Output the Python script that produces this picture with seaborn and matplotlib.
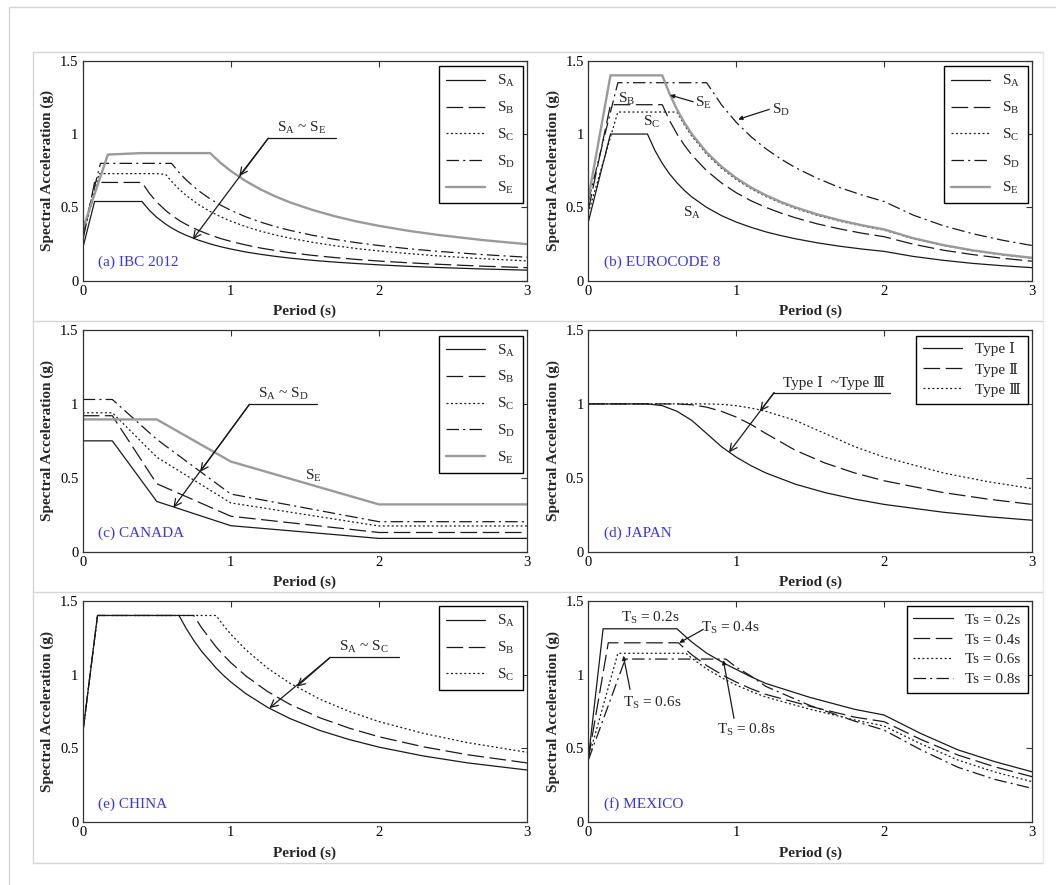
import matplotlib
matplotlib.use("Agg")
import matplotlib.pyplot as plt
import seaborn as sns
from matplotlib.lines import Line2D

# ---------------------------------------------------------------- data
period_ticks = [0, 1, 2, 3]
period_tick_labels = ["0", "1", "2", "3"]
accel_ticks = [0, 0.5, 1.0, 1.5]
accel_tick_labels = ["0", "0.5", "1", "1.5"]

site_labels = [r"$\mathrm{S_A}$", r"$\mathrm{S_B}$", r"$\mathrm{S_C}$",
               r"$\mathrm{S_D}$", r"$\mathrm{S_E}$"]
japan_labels = ["Type \u2160", "Type \u2161", "Type \u2162"]
mexico_labels = ["Ts = 0.2s", "Ts = 0.4s", "Ts = 0.6s", "Ts = 0.8s"]

# (a) IBC 2012
ibc_T = [0, 0.08, 0.11, 0.12, 0.17, 0.4, 0.45, 0.5, 0.56, 0.6, 0.65, 0.7,
         0.78, 0.86, 0.93, 1.0, 1.1, 1.2, 1.3, 1.4, 1.55, 1.7, 1.85, 2.0,
         2.2, 2.4, 2.7, 3.0]
ibc_SA = [0.22, 0.54, 0.54, 0.54, 0.54, 0.54, 0.48, 0.432, 0.386, 0.36,
          0.332, 0.309, 0.277, 0.251, 0.232, 0.216, 0.196, 0.18, 0.166,
          0.154, 0.139, 0.127, 0.117, 0.108, 0.098, 0.09, 0.08, 0.072]
ibc_SB = [0.27, 0.67, 0.67, 0.67, 0.67, 0.67, 0.596, 0.536, 0.479, 0.447,
          0.412, 0.383, 0.344, 0.312, 0.288, 0.268, 0.244, 0.223, 0.206,
          0.191, 0.173, 0.158, 0.145, 0.134, 0.122, 0.112, 0.099, 0.089]
ibc_SC = [0.29, 0.61, 0.73, 0.73, 0.73, 0.73, 0.73, 0.73, 0.725, 0.677,
          0.625, 0.58, 0.521, 0.472, 0.437, 0.406, 0.369, 0.338, 0.312,
          0.29, 0.262, 0.239, 0.219, 0.203, 0.185, 0.169, 0.15, 0.135]
ibc_SD = [0.32, 0.64, 0.76, 0.80, 0.80, 0.80, 0.80, 0.80, 0.80, 0.80,
          0.738, 0.686, 0.615, 0.558, 0.516, 0.48, 0.436, 0.40, 0.369,
          0.343, 0.31, 0.282, 0.259, 0.24, 0.218, 0.20, 0.178, 0.16]
ibc_SE = [0.35, 0.59, 0.68, 0.71, 0.86, 0.87, 0.87, 0.87, 0.87, 0.87, 0.87,
          0.87, 0.87, 0.87, 0.804, 0.748, 0.68, 0.623, 0.575, 0.534, 0.483,
          0.44, 0.404, 0.374, 0.34, 0.312, 0.277, 0.249]

# (b) EUROCODE 8
ec8_T = [0, 0.15, 0.2, 0.4, 0.45, 0.5, 0.55, 0.6, 0.65, 0.7, 0.8, 0.9, 1.0,
         1.1, 1.2, 1.3, 1.4, 1.55, 1.7, 1.85, 2.0, 2.2, 2.4, 2.6, 2.8, 3.0]
ec8_SA = [0.40, 1.0, 1.0, 1.0, 0.889, 0.80, 0.727, 0.667, 0.615, 0.571,
          0.50, 0.444, 0.40, 0.364, 0.333, 0.308, 0.286, 0.258, 0.235,
          0.216, 0.20, 0.165, 0.139, 0.118, 0.102, 0.089]
ec8_SB = [0.48, 1.2, 1.2, 1.2, 1.2, 1.2, 1.091, 1.0, 0.923, 0.857, 0.75,
          0.667, 0.60, 0.545, 0.50, 0.462, 0.429, 0.387, 0.353, 0.324, 0.30,
          0.248, 0.208, 0.178, 0.153, 0.133]
ec8_SC = [0.46, 0.98, 1.15, 1.15, 1.15, 1.15, 1.15, 1.15, 1.062, 0.986,
          0.863, 0.767, 0.69, 0.627, 0.575, 0.531, 0.493, 0.445, 0.406,
          0.373, 0.345, 0.285, 0.24, 0.204, 0.176, 0.153]
ec8_SD = [0.54, 1.15, 1.35, 1.35, 1.35, 1.35, 1.35, 1.35, 1.35, 1.35, 1.35,
          1.20, 1.08, 0.982, 0.90, 0.831, 0.771, 0.697, 0.635, 0.584, 0.54,
          0.446, 0.375, 0.32, 0.276, 0.24]
ec8_SE = [0.56, 1.4, 1.4, 1.4, 1.4, 1.4, 1.273, 1.167, 1.077, 1.0, 0.875,
          0.778, 0.70, 0.636, 0.583, 0.538, 0.50, 0.452, 0.412, 0.378, 0.35,
          0.289, 0.243, 0.207, 0.179, 0.156]

# (c) CANADA
canada_T = [0, 0.2, 0.5, 1.0, 2.0, 3.0]
canada_SA = [0.75, 0.75, 0.34, 0.176, 0.09, 0.09]
canada_SB = [0.92, 0.92, 0.46, 0.24, 0.13, 0.13]
canada_SC = [0.94, 0.94, 0.64, 0.33, 0.174, 0.174]
canada_SD = [1.03, 1.03, 0.76, 0.39, 0.203, 0.203]
canada_SE = [0.895, 0.895, 0.895, 0.61, 0.32, 0.32]

# (d) JAPAN
japan_T = [0, 0.4, 0.5, 0.6, 0.7, 0.8, 0.9, 1.0, 1.1, 1.2, 1.4, 1.6, 1.8,
           2.0, 2.4, 2.7, 3.0]
japan_I = [1.0, 1.0, 0.988, 0.95, 0.888, 0.80, 0.711, 0.64, 0.582, 0.533,
           0.457, 0.40, 0.356, 0.32, 0.267, 0.237, 0.213]
japan_II = [1.0, 1.0, 1.0, 1.0, 0.994, 0.978, 0.95, 0.911, 0.861, 0.80,
            0.686, 0.60, 0.533, 0.48, 0.40, 0.356, 0.32]
japan_III = [1.0, 1.0, 1.0, 1.0, 1.0, 1.0, 0.997, 0.988, 0.972, 0.95, 0.888,
             0.80, 0.711, 0.64, 0.533, 0.474, 0.427]

# (e) CHINA
china_T = [0, 0.1, 0.65, 0.7, 0.75, 0.8, 0.9, 0.95, 1.0, 1.1, 1.25, 1.4, 1.6,
           1.8, 2.0, 2.3, 2.6, 3.0]
china_SA = [0.6, 1.4, 1.4, 1.31, 1.231, 1.161, 1.045, 0.995, 0.95, 0.872,
            0.777, 0.702, 0.622, 0.56, 0.509, 0.449, 0.402, 0.354]
china_SB = [0.6, 1.4, 1.4, 1.4, 1.4, 1.321, 1.188, 1.132, 1.081, 0.992,
            0.884, 0.798, 0.708, 0.637, 0.579, 0.511, 0.457, 0.402]
china_SC = [0.6, 1.4, 1.4, 1.4, 1.4, 1.4, 1.4, 1.334, 1.273, 1.169, 1.042,
            0.941, 0.834, 0.75, 0.682, 0.602, 0.539, 0.474]

# (f) MEXICO
mexico_T = [0, 0.1, 0.135, 0.2, 0.25, 0.6, 0.61, 0.66, 0.7, 0.8, 0.93, 1.0,
            1.1, 1.2, 1.5, 1.8, 2.0, 2.25, 2.5, 2.75, 3.0]
mexico_02 = [0.43, 1.31, 1.31, 1.31, 1.31, 1.31, 1.30, 1.255, 1.22, 1.145,
             1.07, 1.035, 0.985, 0.94, 0.845, 0.765, 0.726, 0.60, 0.49, 0.41,
             0.342]
mexico_04 = [0.43, 1.011, 1.215, 1.215, 1.215, 1.215, 1.215, 1.168, 1.134,
             1.061, 0.984, 0.949, 0.904, 0.866, 0.785, 0.712, 0.681, 0.56,
             0.455, 0.375, 0.309]
mexico_06 = [0.43, 0.787, 0.912, 1.144, 1.144, 1.144, 1.144, 1.144, 1.111,
             1.039, 0.963, 0.929, 0.886, 0.848, 0.765, 0.693, 0.652, 0.53,
             0.421, 0.34, 0.275]
mexico_08 = [0.42, 0.694, 0.79, 0.968, 1.105, 1.105, 1.105, 1.105, 1.105,
             1.105, 1.105, 1.05, 0.99, 0.92, 0.79, 0.685, 0.624, 0.49, 0.372,
             0.29, 0.23]

# ---------------------------------------------------------------- styling
sns.set_theme(style="white")
plt.rcParams.update({
    "font.family": ["Liberation Serif", "DejaVu Serif", "Noto Sans CJK JP"],
    "mathtext.fontset": "custom",
    "mathtext.rm": "Liberation Serif",
    "mathtext.it": "Liberation Serif:italic",
    "mathtext.bf": "Liberation Serif:bold",
    "lines.scale_dashes": False,
    "axes.edgecolor": "#333333",
    "axes.linewidth": 0.9,
    "xtick.color": "#333333",
    "ytick.color": "#333333",
    "xtick.labelcolor": "black",
    "ytick.labelcolor": "black",
    "figure.facecolor": "white",
    "axes.facecolor": "white",
})

INK = "#1a1a1a"
GRAY = "#9a9a9a"
TAG_BLUE = "#3636ee"
STYLES = {
    "solid": dict(color=INK, linewidth=0.9, linestyle="-"),
    "dash": dict(color=INK, linewidth=0.9, linestyle=(0, (12, 4))),
    "dot": dict(color=INK, linewidth=0.9, linestyle=(0, (1.4, 1.8))),
    "dashdot": dict(color=INK, linewidth=0.9,
                    linestyle=(0, (9, 3, 1.5, 3))),
    "gray": dict(color=GRAY, linewidth=1.7, linestyle="-"),
}

W, H = 1056, 885
fig = plt.figure(figsize=(W / 100, H / 100), dpi=100)


def px_box(left, top, right, bottom):
    return [left / W, 1 - bottom / H, (right - left) / W, (bottom - top) / H]


def frame_line(xs, ys, color="#d6d6d6"):
    fig.add_artist(Line2D([x / W for x in xs], [1 - y / H for y in ys],
                          transform=fig.transFigure, color=color, lw=1.0))


def panel(box, T, series, labels, styles, tag, leg_spacing):
    ax = fig.add_axes(px_box(*box))
    for s, lab, st in zip(series, labels, styles):
        sns.lineplot(x=T, y=s, ax=ax, label=lab, estimator=None, sort=False,
                     **STYLES[st])
    ax.set_xlim(0, 3)
    ax.set_ylim(0, 1.5)
    ax.set_xticks(period_ticks, labels=period_tick_labels)
    ax.set_yticks(accel_ticks, labels=accel_tick_labels)
    ax.tick_params(direction="in", top=True, right=True, length=4, width=0.8,
                   labelsize=10.5, pad=3)
    ax.set_xlabel("Period (s)", fontsize=11, fontweight="bold", labelpad=5)
    ax.set_ylabel("Spectral Acceleration (g)", fontsize=11,
                  fontweight="bold", labelpad=4)
    for sp in ax.spines.values():
        sp.set_visible(True)
    leg = ax.legend(loc="upper right", bbox_to_anchor=(0.99, 0.975),
                    borderaxespad=0, fontsize=11, handlelength=2.6,
                    handletextpad=0.8, labelspacing=leg_spacing,
                    borderpad=0.45, fancybox=False, framealpha=1,
                    edgecolor="black")
    leg.get_frame().set_linewidth(1.0)
    ax.text(0.105, 0.123, tag, color=TAG_BLUE, fontsize=11, ha="left",
            va="center")
    return ax


def pointer(ax, corner, bar_end, tips):
    ax.plot([corner[0], bar_end], [corner[1], corner[1]], color=INK, lw=0.9)
    for tip in tips:
        ax.annotate("", xy=tip, xytext=corner,
                    arrowprops=dict(arrowstyle="->", color=INK, lw=0.9,
                                    shrinkA=0, shrinkB=0, mutation_scale=13))


def small_arrow(ax, start, tip):
    ax.annotate("", xy=tip, xytext=start,
                arrowprops=dict(arrowstyle="-|>", color=INK, lw=0.9,
                                shrinkA=0, shrinkB=0, mutation_scale=6))


# light framing around the whole figure and the three rows
frame_line([9, W], [7, 7])
frame_line([9, 9], [7, H])
frame_line([33, 1043], [51.5, 51.5])
frame_line([33, 1043], [321, 321])
frame_line([33, 1043], [592, 592])
frame_line([33, 1043], [863, 863])
frame_line([33, 33], [51.5, 863])
frame_line([1043, 1043], [51.5, 863], color="#e6e6e6")

five = ["solid", "dash", "dot", "dashdot", "gray"]

# (a)
ax = panel((82.7, 60.7, 527, 280.7), ibc_T,
           [ibc_SA, ibc_SB, ibc_SC, ibc_SD, ibc_SE], site_labels, five,
           "(a) IBC 2012", 0.7)
pointer(ax, (1.253, 0.971), 1.71, [(1.057, 0.714), (0.743, 0.282)])
ax.text(1.48, 1.04, r"$\mathrm{S_A}$ ~ $\mathrm{S_E}$", fontsize=11,
        ha="center", va="center")

# (b)
ax = panel((588.3, 60.7, 1032, 280.7), ec8_T,
           [ec8_SA, ec8_SB, ec8_SC, ec8_SD, ec8_SE], site_labels, five,
           "(b) EUROCODE 8", 0.7)
ax.text(0.26, 1.24, r"$\mathrm{S_B}$", fontsize=11, ha="center", va="center")
ax.text(0.43, 1.085, r"$\mathrm{S_C}$", fontsize=11, ha="center", va="center")
ax.text(0.70, 0.46, r"$\mathrm{S_A}$", fontsize=11, ha="center", va="center")
ax.text(0.78, 1.21, r"$\mathrm{S_E}$", fontsize=11, ha="center", va="center")
ax.text(1.30, 1.165, r"$\mathrm{S_D}$", fontsize=11, ha="center", va="center")
small_arrow(ax, (0.709, 1.22), (0.552, 1.266))
small_arrow(ax, (1.223, 1.168), (1.013, 1.10))

# (c)
ax = panel((82.7, 330, 527, 551.7), canada_T,
           [canada_SA, canada_SB, canada_SC, canada_SD, canada_SE],
           site_labels, five, "(c) CANADA", 0.7)
pointer(ax, (1.126, 0.997), 1.585, [(0.793, 0.541), (0.612, 0.298)])
ax.text(1.355, 1.065, r"$\mathrm{S_A}$ ~ $\mathrm{S_D}$", fontsize=11,
        ha="center", va="center")
ax.text(1.56, 0.51, r"$\mathrm{S_E}$", fontsize=11, ha="center", va="center")

# (d)
ax = panel((588.3, 330, 1032, 551.7), japan_T,
           [japan_I, japan_II, japan_III], japan_labels,
           ["solid", "dash", "dot"], "(d) JAPAN", 0.4)
pointer(ax, (1.256, 1.076), 2.043, [(1.161, 0.95), (0.951, 0.672)])
ax.text(1.66, 1.143, "Type \u2160  ~Type \u2162", fontsize=11, ha="center",
        va="center")

# (e)
ax = panel((82.7, 600.7, 527, 822.3), china_T,
           [china_SA, china_SB, china_SC], site_labels[:3],
           ["solid", "dash", "dot"], "(e) CHINA", 0.7)
pointer(ax, (1.671, 1.116), 2.139, [(1.446, 0.918), (1.261, 0.773)])
ax.text(1.90, 1.19, r"$\mathrm{S_A}$ ~ $\mathrm{S_C}$", fontsize=11,
        ha="center", va="center")

# (f)
ax = panel((588.3, 600.7, 1032, 822.3), mexico_T,
           [mexico_02, mexico_04, mexico_06, mexico_08], mexico_labels,
           ["solid", "dash", "dot", "dashdot"], "(f) MEXICO", 0.4)
ax.text(0.42, 1.385, r"$\mathrm{T_S}$ = 0.2s", fontsize=11, ha="center",
        va="center")
ax.text(0.96, 1.315, r"$\mathrm{T_S}$ = 0.4s", fontsize=11, ha="center",
        va="center")
ax.text(0.43, 0.805, r"$\mathrm{T_S}$ = 0.6s", fontsize=11, ha="center",
        va="center")
ax.text(1.07, 0.625, r"$\mathrm{T_S}$ = 0.8s", fontsize=11, ha="center",
        va="center")
small_arrow(ax, (0.778, 1.306), (0.615, 1.215))
small_arrow(ax, (0.282, 0.90), (0.237, 1.128))
small_arrow(ax, (0.985, 0.704), (0.913, 1.098))

fig.savefig("out.png", dpi=100)
